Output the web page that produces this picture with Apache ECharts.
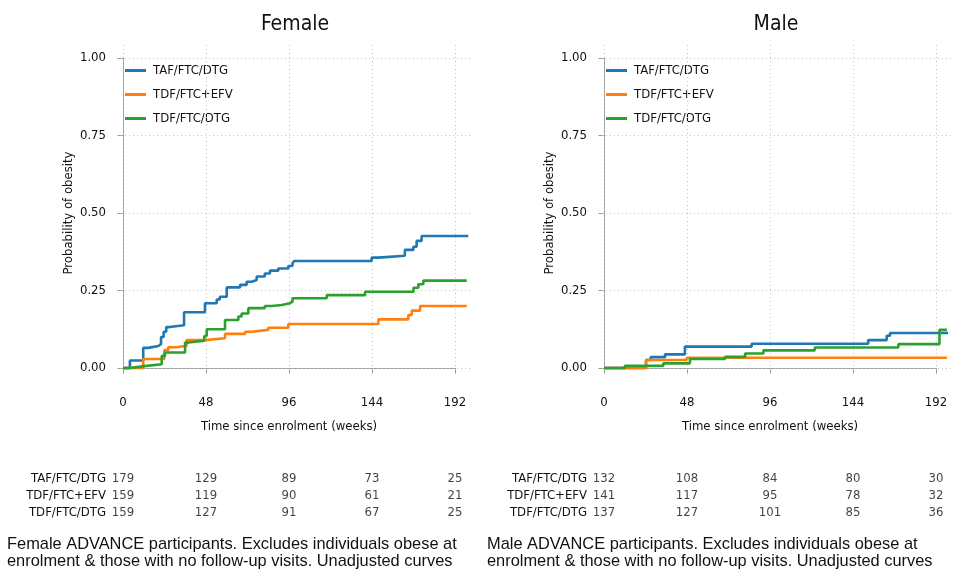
<!DOCTYPE html>
<html><head><meta charset="utf-8">
<script src="https://cdn.jsdelivr.net/npm/echarts@6/dist/echarts.min.js"></script>
<style>html,body{margin:0;padding:0;background:#fff}#c{width:955px;height:569px}</style>
</head><body><div id="c"></div>
<script>
// ---- data ----
const arms = ['TAF/FTC/DTG', 'TDF/FTC+EFV', 'TDF/FTC/DTG'];
const xTicks = [0, 48, 96, 144, 192];
const yTicks = [0, 0.25, 0.5, 0.75, 1];
const riskTimes = [0, 48, 96, 144, 192];

// Kaplan-Meier style cumulative probabilities: [week, probability]
const femaleTaf = [[0,0],[4,0.024],[11.7,0.065],[14.6,0.071],[20.4,0.077],[22,0.1],[23.5,0.117],[25,0.132],[27,0.138],[35.3,0.18],[47.4,0.209],[54.2,0.221],[56,0.23],[60,0.26],[67.7,0.268],[71.5,0.278],[74.4,0.284],[77.3,0.295],[82,0.305],[85,0.314],[89.8,0.321],[95.6,0.329],[98,0.338],[99,0.345],[143.8,0.356],[147.7,0.362],[163,0.381],[167.9,0.391],[169.8,0.41],[172.7,0.426],[199.7,0.426]];
const femaleEfv = [[0,0],[11.7,0.029],[23.9,0.058],[26.2,0.067],[31,0.072],[36.8,0.09],[47.4,0.096],[59,0.11],[70.6,0.117],[74.4,0.123],[84,0.13],[95.6,0.142],[147.7,0.157],[165,0.171],[167,0.185],[171.8,0.2],[198.8,0.2]];
const femaleDtg = [[0,0],[4,0.006],[12.3,0.012],[22.4,0.039],[24.3,0.05],[35.9,0.082],[37.8,0.088],[47,0.103],[48.4,0.125],[59,0.155],[66.7,0.166],[68.6,0.176],[72.5,0.193],[82,0.2],[86,0.203],[91.8,0.209],[96.6,0.214],[98,0.225],[117.8,0.235],[140,0.246],[168,0.259],[170.8,0.27],[173.7,0.282],[198.8,0.282]];
const maleTaf = [[0,0],[24.3,0.026],[27,0.035],[35.3,0.044],[46.8,0.069],[85.4,0.078],[152.8,0.09],[163.5,0.104],[165.4,0.113],[199,0.113]];
const maleEfv = [[0,0],[24.3,0.026],[47.8,0.033],[198.3,0.033]];
const maleDtg = [[0,0],[12.1,0.007],[34.3,0.015],[49.7,0.029],[70,0.036],[81.6,0.047],[92.2,0.057],[121.9,0.066],[170.2,0.077],[194,0.123],[198.3,0.123]];

// numbers at risk
const femaleRiskTaf = [179, 129, 89, 73, 25];
const femaleRiskEfv = [159, 119, 90, 61, 21];
const femaleRiskDtg = [159, 127, 91, 67, 25];
const maleRiskTaf = [132, 108, 84, 80, 30];
const maleRiskEfv = [141, 117, 95, 78, 32];
const maleRiskDtg = [137, 127, 101, 85, 36];

const panelTitles = ['Female', 'Male'];
const captions = [
  'Female ADVANCE participants. Excludes individuals obese at\nenrolment & those with no follow-up visits. Unadjusted curves',
  'Male ADVANCE participants. Excludes individuals obese at\nenrolment & those with no follow-up visits. Unadjusted curves'
];

// ---- styling / layout ----
const colors = ['#1f77b4', '#ff7f0e', '#2ca02c'];
const FONT = "'Liberation Sans Narrow','Arial Narrow','DejaVu Sans Condensed',sans-serif";
const CAPFONT = "'Liberation Sans',Arial,sans-serif";
const TXT = '#111';
const AX = '#9a9a9a';
const FS = 13;
const panels = [
  {left: 123, titleX: 295, capX: 7, curves: [femaleTaf, femaleEfv, femaleDtg], risk: [femaleRiskTaf, femaleRiskEfv, femaleRiskDtg]},
  {left: 604, titleX: 776, capX: 487, curves: [maleTaf, maleEfv, maleDtg], risk: [maleRiskTaf, maleRiskEfv, maleRiskDtg]}
];
const plotTop = 58, plotH = 310, plotW = 332, xMax = 192;
const pxPerWeek = plotW / xMax;
const gl = {l: 6, r: 15, t: 13, b: 6}; // extension of the plotting area beyond the axes

const grid = [], xAxis = [], yAxis = [], series = [], title = [], legend = [];

panels.forEach((p, pi) => {
  const g0 = pi * 3;
  // data grid (plotting region incl. margins, carries gridlines and curves)
  grid.push({left: p.left - gl.l, top: plotTop - gl.t, width: plotW + gl.l + gl.r, height: plotH + gl.t + gl.b});
  xAxis.push({type: 'value', gridIndex: g0, show: false, min: -gl.l / pxPerWeek, max: xMax + gl.r / pxPerWeek});
  yAxis.push({type: 'value', gridIndex: g0, show: false, min: -gl.b / plotH, max: 1 + gl.t / plotH});

  // axis grid (axes span exactly 0..192 and 0..1)
  grid.push({left: p.left, top: plotTop, width: plotW, height: plotH});
  xAxis.push({type: 'value', gridIndex: g0 + 1, min: 0, max: xMax, interval: 48, offset: 15,
    axisLine: {show: true, lineStyle: {color: AX, width: 1}},
    axisTick: {show: true, length: 6, lineStyle: {color: AX}},
    axisLabel: {margin: 13, fontSize: FS, color: TXT, fontFamily: FONT},
    splitLine: {show: false},
    name: 'Time since enrolment (weeks)', nameLocation: 'middle', nameGap: 37,
    nameTextStyle: {fontSize: FS, color: TXT, fontFamily: FONT}});
  yAxis.push({type: 'value', gridIndex: g0 + 1, min: 0, max: 1, interval: 0.25, offset: 10,
    axisLine: {show: true, lineStyle: {color: AX, width: 1}},
    axisTick: {show: true, length: 6, lineStyle: {color: AX}},
    axisLabel: {margin: 7, fontSize: FS, color: TXT, fontFamily: FONT, formatter: v => v.toFixed(2)},
    splitLine: {show: false},
    name: 'Probability of obesity', nameLocation: 'middle', nameRotate: 90, nameGap: 38,
    nameTextStyle: {fontSize: FS, color: TXT, fontFamily: FONT}});

  // risk table grid
  grid.push({left: p.left, top: 470.5, width: plotW, height: 51});
  xAxis.push({type: 'value', gridIndex: g0 + 2, show: false, min: 0, max: xMax});
  yAxis.push({type: 'category', gridIndex: g0 + 2, data: arms, inverse: true,
    axisLine: {show: false}, axisTick: {show: false}, splitLine: {show: false},
    axisLabel: {interval: 0, margin: 17, fontSize: FS, color: TXT, fontFamily: FONT}});

  // gridlines
  series.push({type: 'line', xAxisIndex: g0, yAxisIndex: g0, data: [], silent: true, z: 1,
    markLine: {silent: true, symbol: ['none', 'none'], label: {show: false},
      lineStyle: {type: [1, 3], color: '#c4c4c4', width: 1},
      emphasis: {disabled: true},
      data: xTicks.map(v => ({xAxis: v})).concat(yTicks.map(v => ({yAxis: v})))}});

  // curves
  p.curves.forEach((d, ai) => {
    series.push({type: 'line', name: arms[ai], xAxisIndex: g0, yAxisIndex: g0, data: d,
      step: 'end', showSymbol: false, symbol: 'none', z: 5,
      color: colors[ai], lineStyle: {width: 2.6, color: colors[ai]}});
  });

  // risk table
  const rdata = [];
  arms.forEach((a, ai) => riskTimes.forEach((t, ti) => rdata.push([t, a, p.risk[ai][ti]])));
  series.push({type: 'scatter', xAxisIndex: g0 + 2, yAxisIndex: g0 + 2, data: rdata, symbolSize: 1,
    itemStyle: {color: 'rgba(0,0,0,0)'}, silent: true,
    label: {show: true, position: 'inside', formatter: q => q.value[2], fontSize: FS, color: TXT, fontFamily: FONT}});

  title.push({text: panelTitles[pi], left: p.titleX, textAlign: 'center', top: 14, padding: 0,
    textStyle: {fontSize: 21, fontWeight: 'normal', color: TXT, fontFamily: FONT}});
  title.push({text: captions[pi], left: p.capX, top: 536, padding: 0,
    textStyle: {fontSize: 16.4, lineHeight: 17, fontWeight: 'normal', color: TXT, fontFamily: CAPFONT}});

  legend.push({data: arms, orient: 'vertical', left: p.left + 2, top: 64, padding: 0,
    icon: 'rect', itemWidth: 21, itemHeight: 3, itemGap: 11, selectedMode: false,
    textStyle: {fontSize: FS, color: TXT, fontFamily: FONT, padding: [0, 0, 0, 2]}});
});

const chart = echarts.init(document.getElementById('c'), null, {renderer: 'canvas'});
chart.setOption({animation: false, backgroundColor: '#fff', color: colors,
  title, legend, grid, xAxis, yAxis, series});
</script></body></html>
